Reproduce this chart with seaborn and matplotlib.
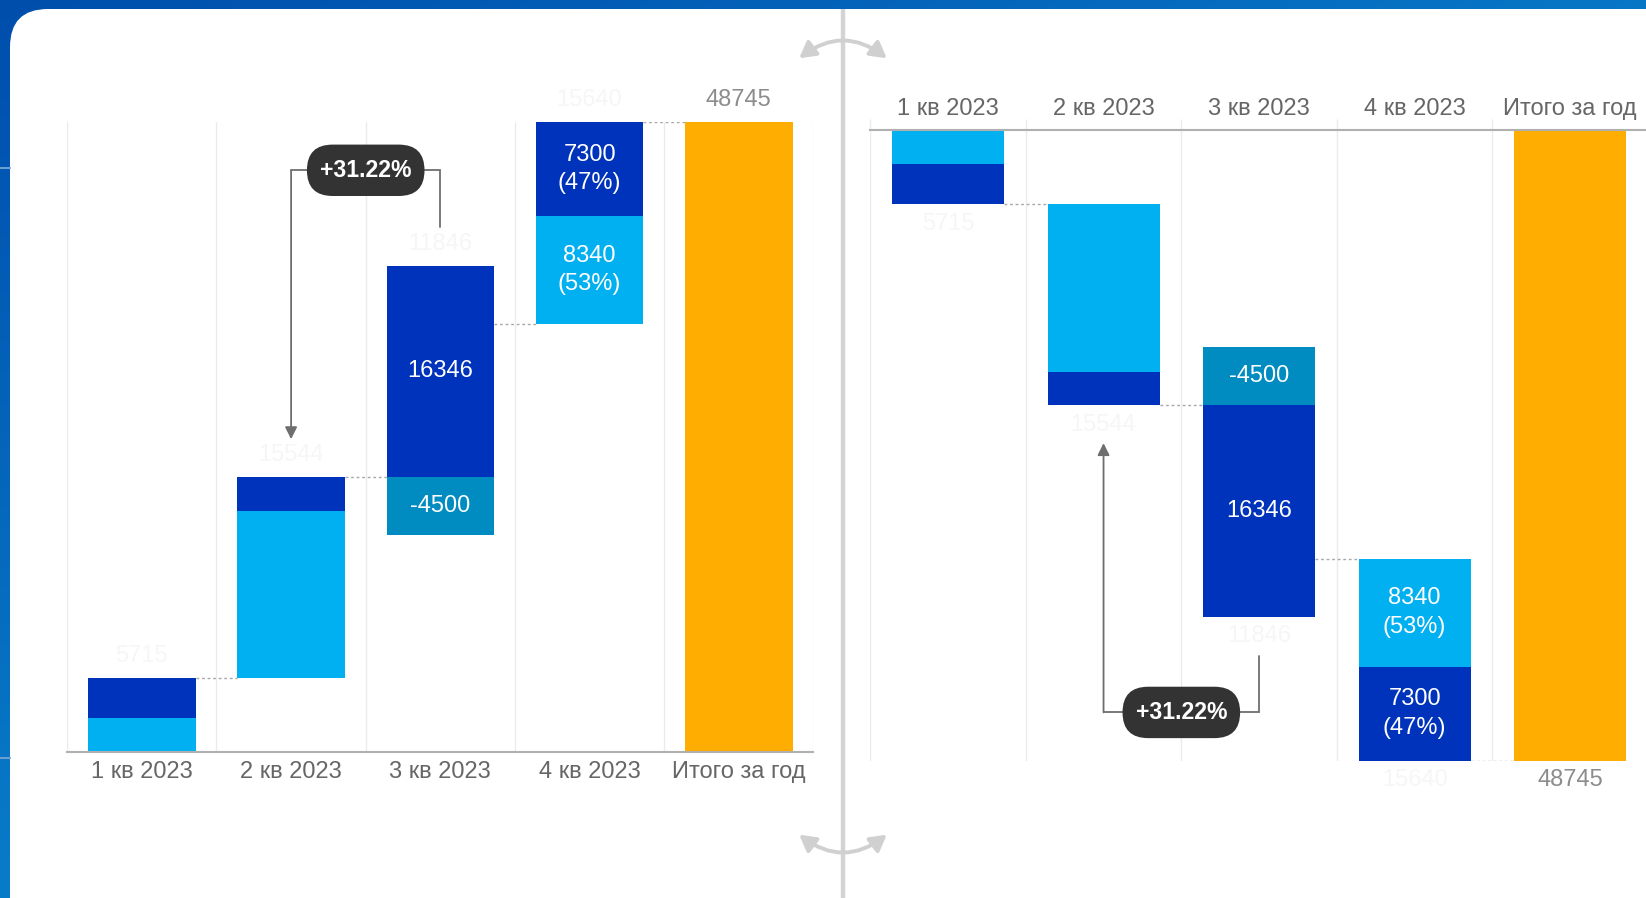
import numpy as np
import matplotlib
matplotlib.use("Agg")
import matplotlib.pyplot as plt
import matplotlib.transforms as mtransforms
from matplotlib.patches import FancyBboxPatch, FancyArrowPatch
from matplotlib import font_manager as fm
import seaborn as sns

# ---------------- data ----------------
categories = ["1 кв 2023", "2 кв 2023", "3 кв 2023", "4 кв 2023", "Итого за год"]
q1_parts = [2615, 3100]
q2_parts = [12944, 2600]
q3_parts = [-4500, 16346]
q4_parts = [8340, 7300]
quarter_totals = [5715, 15544, 11846, 15640]
year_total = 48745
growth_text = "+31.22%"
label_modes = [None, None, "value", "value_pct"]

# ---------------- style ----------------
DARK = "#0033BB"
LIGHT = "#00B0F0"
TEAL = "#008CC0"
ORANGE = "#FFAD00"
part_colors = [[LIGHT, DARK], [LIGHT, DARK], [TEAL, DARK], [LIGHT, DARK]]
BW = 0.72

sns.set_theme(style="white")
plt.rcParams["font.family"] = ["Liberation Sans", "DejaVu Sans"]


def has_font(name):
    try:
        fm.findfont(fm.FontProperties(family=name), fallback_to_default=False)
        return True
    except Exception:
        return False


if has_font("Liberation Sans Narrow"):
    BADGE_FAMILY = ["Liberation Sans Narrow", "Liberation Sans"]
else:
    BADGE_FAMILY = ["Liberation Sans", "DejaVu Sans"]
BADGE_SIZE = 15

W, H = 1646, 898
fig = plt.figure(figsize=(W / 100, H / 100), dpi=100)

# ---------------- background ----------------
bg = fig.add_axes([0, 0, 1, 1], zorder=0)
bg.set_xlim(0, W)
bg.set_ylim(H, 0)
bg.axis("off")
yy, xx = np.mgrid[0:H:4, 0:W:4]
t = np.clip(0.75 * xx / W + 0.85 * yy / H, 0, 1)
c0 = np.array([0, 78, 172]) / 255
c1 = np.array([10, 132, 206]) / 255
img = c0 + (c1 - c0) * t[..., None]
bg.imshow(img, extent=(0, W, H, 0), aspect="auto", interpolation="bilinear", zorder=0)
bg.add_patch(FancyBboxPatch((10, 9), W + 200, H + 200,
                            boxstyle="round,pad=0,rounding_size=38",
                            fc="white", ec="none", zorder=1))
for yl in (168, 758):
    bg.plot([0, 10], [yl, yl], color="#6a9fd6", lw=1.5, zorder=2)
bg.plot([843, 843], [9, H], color="#d3d3d3", lw=3.2, solid_capstyle="butt", zorder=2)
for (y0, rad) in ((60, -0.4), (833, 0.4)):
    bg.add_patch(FancyArrowPatch((797, y0), (889, y0),
                                 connectionstyle=f"arc3,rad={rad}",
                                 arrowstyle="<|-|>,head_length=0.8,head_width=0.45",
                                 mutation_scale=12, color="#d0d0d0", lw=2.8, zorder=3))

# ---------------- waterfall segments ----------------
segs = []
tops = []
ends = []
base = 0
for i, parts in enumerate([q1_parts, q2_parts, q3_parts, q4_parts]):
    up = base
    down = base
    qsum = sum(parts)
    for j, v in enumerate(parts):
        if v >= 0:
            segs.append(dict(i=i, b=up, h=v, c=part_colors[i][j], qsum=qsum))
            up += v
        else:
            segs.append(dict(i=i, b=down, h=v, c=part_colors[i][j], qsum=qsum))
            down += v
    tops.append(up)
    base += qsum
    ends.append(base)

badge_texts = []


def draw_chart(ax, inverted):
    for s in segs:
        sns.barplot(x=[categories[s["i"]]], y=[s["h"]], bottom=s["b"], order=categories,
                    color=s["c"], saturation=1, width=BW, errorbar=None,
                    linewidth=0, ax=ax, zorder=2)
    sns.barplot(x=[categories[-1]], y=[year_total], order=categories, color=ORANGE,
                saturation=1, width=BW, errorbar=None, linewidth=0, ax=ax, zorder=2)

    # labels inside segments
    for s in segs:
        mode = label_modes[s["i"]]
        if mode is None:
            continue
        txt = f"{s['h']}"
        if mode == "value_pct":
            txt += f"\n({round(100 * s['h'] / s['qsum'])}%)"
        ax.text(s["i"], s["b"] + s["h"] / 2, txt, ha="center", va="center",
                color="white", fontsize=17, linespacing=1.4, zorder=4)

    # faint quarter totals and year total
    off = -14 if inverted else 16
    for i, q in enumerate(quarter_totals):
        ax.annotate(f"{q}", (i, tops[i]), xytext=(0, off), textcoords="offset points",
                    ha="center", va="center", color="#f6f6f6", fontsize=17, zorder=4)
    ax.annotate(f"{year_total}", (4, year_total), xytext=(0, off), textcoords="offset points",
                ha="center", va="center", color="#8c8c8c", fontsize=17, zorder=4)

    # dotted connectors
    lv = ends + [year_total]
    for i in range(4):
        ax.plot([i + BW / 2, i + 1 - BW / 2], [lv[i], lv[i]], ls=(0, (2, 2)),
                color="#a8a8a8", lw=1, zorder=3)

    # growth badge
    level = year_total * 0.923
    tip = ends[1] + 0.06 * year_total
    rend = tops[2] + 0.062 * year_total
    ax.plot([2, 2, 1], [rend, level, level], color="#6e6e6e", lw=1.3, zorder=3,
            solid_joinstyle="miter")
    ax.annotate("", xy=(1, tip), xytext=(1, level),
                arrowprops=dict(arrowstyle="-|>,head_length=0.6,head_width=0.3",
                                color="#6e6e6e", lw=1.3, shrinkA=0, shrinkB=0),
                zorder=3)
    trans = mtransforms.Affine2D() + mtransforms.ScaledTranslation(1.5, level, ax.transData)
    pill = FancyBboxPatch((-58.8, -25.7), 117.6, 51.4,
                          boxstyle="round,pad=0,rounding_size=25.7",
                          fc="#333333", ec="none", transform=trans, zorder=5, clip_on=False)
    ax.add_artist(pill)
    bt = ax.text(1.5, level, growth_text, ha="center", va="center", color="white",
                 fontweight="bold", fontsize=BADGE_SIZE, family=BADGE_FAMILY, zorder=6)
    badge_texts.append(bt)

    # axes styling
    ax.set_facecolor("none")
    ax.set_xlabel("")
    ax.set_ylabel("")
    ax.set_yticks([])
    for sp in ax.spines.values():
        sp.set_visible(False)
    if inverted:
        ax.xaxis.tick_top()
        ax.spines["top"].set_visible(True)
        ax.spines["top"].set_color("#b0b0b0")
        ax.spines["top"].set_linewidth(1.5)
    else:
        ax.spines["bottom"].set_visible(True)
        ax.spines["bottom"].set_color("#b0b0b0")
        ax.spines["bottom"].set_linewidth(1.5)
    ax.set_xticks(range(len(categories)))
    ax.set_xticklabels(categories, fontsize=17, color="#666666")
    ax.set_xticks(np.arange(-0.5, len(categories), 1), minor=True)
    ax.tick_params(axis="x", which="major", length=0, pad=7)
    ax.tick_params(axis="x", which="minor", length=8, color="#ebebeb", width=1)
    ax.set_axisbelow(True)
    ax.grid(False)
    ax.grid(True, which="minor", axis="x", color="#ebebeb", lw=1)
    ax.set_xlim(-0.5, 4.5)
    if inverted:
        ax.set_ylim(year_total, 0)
    else:
        ax.set_ylim(0, year_total)


ax_left = fig.add_axes([67.2 / W, 1 - 751.6 / H, (813.5 - 67.2) / W, (751.6 - 121.8) / H], zorder=2)
ax_right = fig.add_axes([870.2 / W, 1 - 761 / H, (1648 - 870.2) / W, (761 - 130.2) / H], zorder=2)
draw_chart(ax_left, inverted=False)
draw_chart(ax_right, inverted=True)

# fit badge text width to the pill (about 92 px wide)
fig.canvas.draw()
renderer = fig.canvas.get_renderer()
for bt in badge_texts:
    w = bt.get_window_extent(renderer).width
    if w > 0:
        bt.set_fontsize(bt.get_fontsize() * 92.0 / w)

fig.savefig("out.png", dpi=100)
